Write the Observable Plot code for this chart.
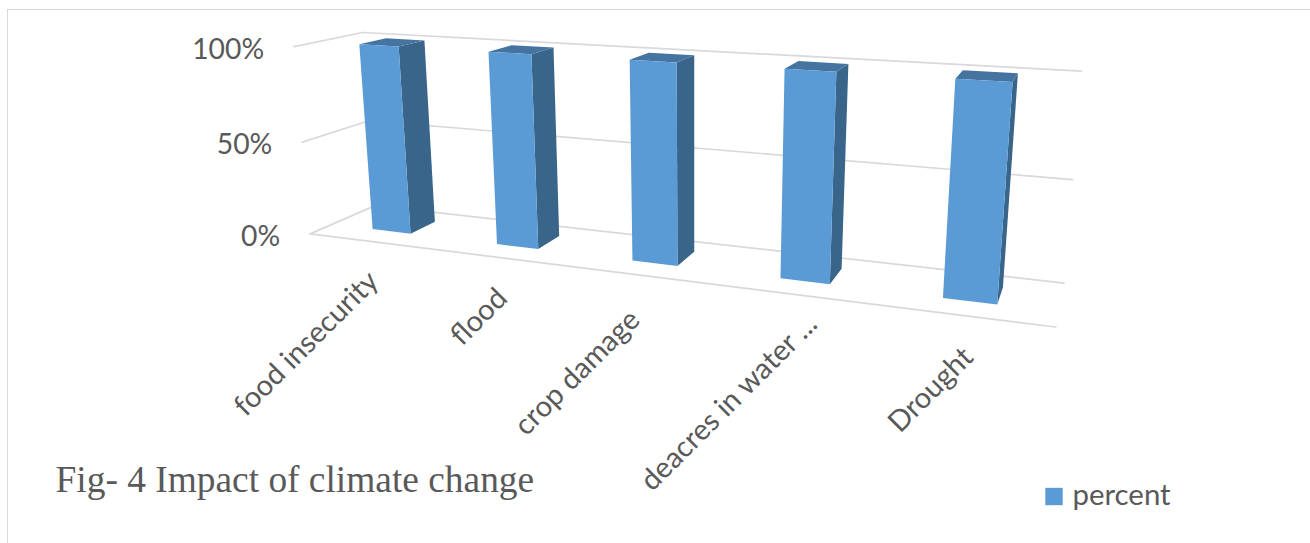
<!DOCTYPE html>
<html>
<head>
<meta charset="utf-8">
<style>
  html, body { margin: 0; background: #fff; overflow: hidden; }
  #chart { position: relative; width: 1310px; height: 543px; }
  #chart svg { position: absolute; left: 0; top: 0; }
  /* Thin chart-area edge along the top and left */
  #edge { position: absolute; left: 7px; top: 9px; right: 0; bottom: 0; border-left: 1.5px solid #d9d9d9; border-top: 1.5px solid #d9d9d9; }
</style>
<script src="https://cdn.jsdelivr.net/npm/d3@7"></script>
<script src="https://cdn.jsdelivr.net/npm/@observablehq/plot@0.6"></script>
</head>
<body>
<div id="chart"><div id="edge"></div></div>
<script>
// Chart data
const categories = ["food insecurity", "flood", "crop damage", "deacres in water ...", "Drought"];
const percent = [100, 100, 100, 100, 100];
const percentTicks = [0, 50, 100];
const seriesName = "percent";
const figureTitle = "Fig- 4 Impact of climate change";

// Per-label nudge of the rotated category labels, in pixels
const labelDx = [3, 3, -5, 18, 4];
const labelDy = [35, 36, 40, 25, 37];

// Colours of the three visible column faces
const frontColor = "#5b9bd5";
const sideColor = "#3a658b";
const topColor = "#44749f";
const gridColor = "#d9d9d9";
const textColor = "#595959";

// Perspective camera: maps (across, height, depth), each in 0..1, onto the page
const camera = [
  [527.53321, -27.88415, 96.66239, 309.66093],
  [25.68065, -189.04829, -10.85379, 233.35238],
  [-0.20666, -0.0402, 0.08482, 1]
];
const perspective = d3.geoTransform({
  point(u, v, w = 0) {
    const [a, b, c] = camera.map((r) => r[0] * u + r[1] * v + r[2] * w + r[3]);
    this.stream.point(a / c, b / c);
  }
});

// Column footprint inside the floor
const columnWidth = 0.0628;
const depthFront = 0.3223;
const depthBack = 0.7293;
const across = (i) => (i + 0.5) / categories.length;

const line = (...coordinates) => ({type: "LineString", coordinates});
const polygon = (...ring) => ({type: "Polygon", coordinates: [[...ring, ring[0]]]});

// Back wall, left wall and floor edges
const gridLines = [
  ...percentTicks.map((t) => line([0, t / 100, 1], [1, t / 100, 1])),
  ...percentTicks.map((t) => line([0, t / 100, 0], [0, t / 100, 1])),
  line([0, 0, 0], [1, 0, 0])
];

const columns = percent.map((value, i) => {
  const l = across(i) - columnWidth / 2;
  const r = across(i) + columnWidth / 2;
  const h = value / 100;
  return {
    side: polygon([r, 0, depthFront], [r, 0, depthBack], [r, h, depthBack], [r, h, depthFront]),
    top: polygon([l, h, depthFront], [r, h, depthFront], [r, h, depthBack], [l, h, depthBack]),
    front: polygon([l, 0, depthFront], [r, 0, depthFront], [r, h, depthFront], [l, h, depthFront])
  };
});

const font = "Lato";

const svg = Plot.plot({
  width: 1310,
  height: 543,
  margin: 0,
  projection: perspective,
  style: {background: "transparent"},
  marks: [
    Plot.geo(gridLines, {stroke: gridColor, strokeWidth: 1.7}),
    Plot.geo(columns, {geometry: (d) => d.side, fill: sideColor}),
    Plot.geo(columns, {geometry: (d) => d.top, fill: topColor}),
    Plot.geo(columns, {geometry: (d) => d.front, fill: frontColor}),
    // Value axis labels sit at the front-left edge of the floor and wall
    Plot.text(percentTicks, {
      x: () => 0,
      y: (d) => d / 100,
      text: (d) => `${d}%`,
      textAnchor: "end",
      dx: -30,
      dy: 3,
      fontFamily: font,
      fontSize: 28.3,
      fill: textColor
    }),
    // Category labels, rotated below the front edge of the floor
    ...categories.map((name, i) =>
      Plot.text([name], {
        x: () => across(i),
        y: () => 0,
        text: (d) => d,
        rotate: -45,
        textAnchor: "end",
        dx: labelDx[i],
        dy: labelDy[i],
        fontFamily: font,
        fontSize: 29,
        fill: textColor
      })
    ),
    Plot.text([figureTitle], {
      frameAnchor: "top-left",
      dx: 55,
      dy: 480,
      text: (d) => d,
      textAnchor: "start",
      lineAnchor: "middle",
      fontFamily: "Liberation Serif",
      fontSize: 37.4,
      fill: textColor
    }),
    // Legend entry
    Plot.dot([seriesName], {
      frameAnchor: "top-left",
      dx: 1053.5,
      dy: 496,
      symbol: "square",
      r: 9.8,
      fill: frontColor
    }),
    Plot.text([seriesName], {
      frameAnchor: "top-left",
      dx: 1072,
      dy: 495,
      text: (d) => d,
      textAnchor: "start",
      lineAnchor: "middle",
      fontFamily: font,
      fontSize: 29.4,
      fill: textColor
    })
  ]
});
document.getElementById("chart").appendChild(svg);
</script>
</body>
</html>
